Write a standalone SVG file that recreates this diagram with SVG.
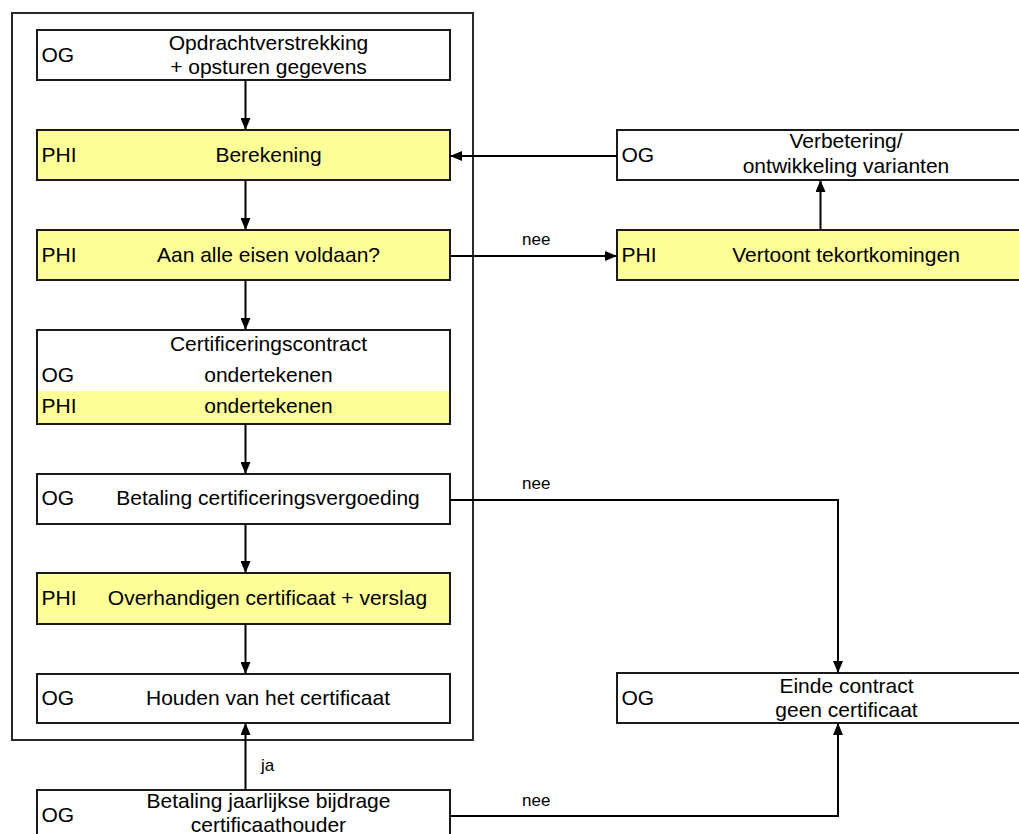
<svg xmlns="http://www.w3.org/2000/svg" width="1019" height="834" viewBox="0 0 1019 834">
<style>
text{font-family:"Liberation Sans",Arial,sans-serif;fill:#000}
.t{font-size:21px}
.c{text-anchor:middle}
.s{font-size:17px}
.box{fill:#fff;stroke:#1a1a1a;stroke-width:2}
.y{fill:#ffff99}
.ln{fill:none;stroke:#000;stroke-width:2}
</style>
<defs>
<marker id="ah" viewBox="0 0 12 10" refX="12" refY="5" markerWidth="12" markerHeight="10" markerUnits="userSpaceOnUse" orient="auto">
<path d="M0,0 L12,5 L0,10 Z" fill="#000"/>
</marker>
</defs>
<rect x="0" y="0" width="1019" height="834" fill="#fff"/>
<g id="frame"><rect x="12" y="13" width="461" height="727" fill="none" stroke="#2a2a2a" stroke-width="2"/></g>

<g id="n1"><rect class="box" x="37" y="30" width="413" height="50"/>
<text class="t" x="41.5" y="62">OG</text>
<text class="t c" x="268.5" y="50">Opdrachtverstrekking</text>
<text class="t c" x="268.5" y="74">+ opsturen gegevens</text></g>

<g id="n2"><rect class="box y" x="37" y="130" width="413" height="50"/>
<text class="t" x="41.5" y="162">PHI</text>
<text class="t c" x="268.5" y="162">Berekening</text></g>

<g id="n3"><rect class="box y" x="37" y="230" width="413" height="50"/>
<text class="t" x="41.5" y="262">PHI</text>
<text class="t c" x="268.5" y="262">Aan alle eisen voldaan?</text></g>

<g id="n4"><rect class="box" x="37" y="330" width="413" height="94"/>
<rect x="38" y="391" width="411" height="32" fill="#ffff99"/>
<rect x="37" y="330" width="413" height="94" fill="none" stroke="#1a1a1a" stroke-width="2"/>
<text class="t c" x="268.5" y="351">Certificeringscontract</text>
<text class="t" x="41.5" y="382">OG</text>
<text class="t c" x="268.5" y="382">ondertekenen</text>
<text class="t" x="41.5" y="413">PHI</text>
<text class="t c" x="268.5" y="413">ondertekenen</text></g>

<g id="n5"><rect class="box" x="37" y="474" width="413" height="50"/>
<text class="t" x="41.5" y="505">OG</text>
<text class="t c" x="268" y="505">Betaling certificeringsvergoeding</text></g>

<g id="n6"><rect class="box y" x="37" y="573" width="413" height="51"/>
<text class="t" x="41.5" y="605">PHI</text>
<text class="t c" x="267.5" y="605">Overhandigen certificaat + verslag</text></g>

<g id="n7"><rect class="box" x="37" y="674" width="413" height="49"/>
<text class="t" x="41.5" y="705">OG</text>
<text class="t c" x="268" y="705">Houden van het certificaat</text></g>

<g id="n8"><rect class="box" x="37" y="790" width="413" height="50"/>
<text class="t" x="41.5" y="822">OG</text>
<text class="t c" x="268.5" y="808">Betaling jaarlijkse bijdrage</text>
<text class="t c" x="268.5" y="832">certificaathouder</text></g>

<g id="n9"><rect class="box" x="617" y="130" width="413" height="50"/>
<text class="t" x="621.5" y="162">OG</text>
<text class="t c" x="846" y="148">Verbetering/</text>
<text class="t c" x="846" y="173">ontwikkeling varianten</text></g>

<g id="n10"><rect class="box y" x="617" y="230" width="413" height="50"/>
<text class="t" x="621.5" y="262">PHI</text>
<text class="t c" x="846" y="262">Vertoont tekortkomingen</text></g>

<g id="n11"><rect class="box" x="617" y="673" width="413" height="50"/>
<text class="t" x="621.5" y="705">OG</text>
<text class="t c" x="846.5" y="693">Einde contract</text>
<text class="t c" x="846.5" y="717">geen certificaat</text></g>

<g id="connectors">
<path class="ln" d="M245.5,80 V130" marker-end="url(#ah)"/>
<path class="ln" d="M245.5,180 V230" marker-end="url(#ah)"/>
<path class="ln" d="M245.5,280 V330" marker-end="url(#ah)"/>
<path class="ln" d="M245.5,424 V474" marker-end="url(#ah)"/>
<path class="ln" d="M245.5,524 V573" marker-end="url(#ah)"/>
<path class="ln" d="M245.5,624 V674" marker-end="url(#ah)"/>
<path class="ln" d="M245.5,790 V723" marker-end="url(#ah)"/>
<path class="ln" d="M617,156 H450" marker-end="url(#ah)"/>
<path class="ln" d="M450,256 H617" marker-end="url(#ah)"/>
<path class="ln" d="M820.5,230 V180" marker-end="url(#ah)"/>
<path class="ln" d="M450,500 H838 V673" marker-end="url(#ah)"/>
<path class="ln" d="M450,816 H838 V723" marker-end="url(#ah)"/>
<text class="s" x="522" y="245">nee</text>
<text class="s" x="522" y="489">nee</text>
<text class="s" x="522" y="806">nee</text>
<text class="s" x="261" y="771">ja</text>
</g>
</svg>
